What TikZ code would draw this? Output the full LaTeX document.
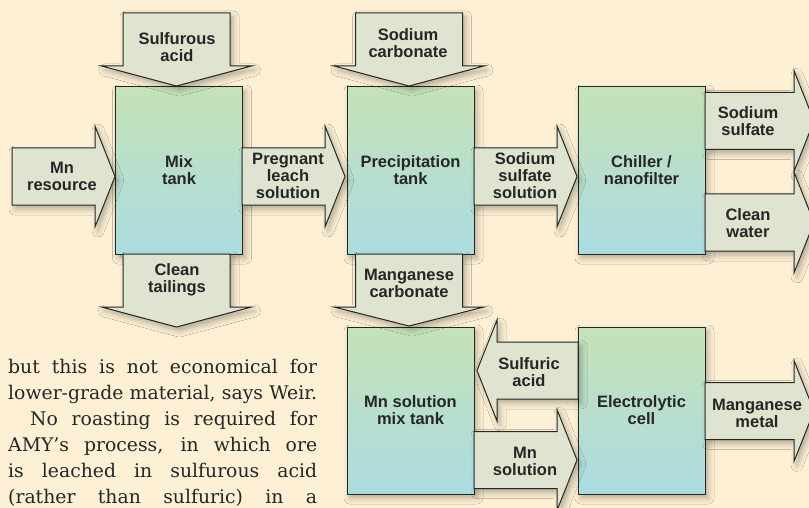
\documentclass[tikz,border=0pt]{standalone}
\usepackage{fontspec}
\newfontfamily\flowfont{Liberation Sans}
\newfontfamily\storyfont{DejaVu Serif}
\usetikzlibrary{shadows.blur}

\definecolor{paper}{RGB}{253,240,212}
\definecolor{tanktop}{RGB}{197,226,183}
\definecolor{tankbot}{RGB}{172,220,225}
\definecolor{flowfill}{RGB}{222,228,208}
\definecolor{ink}{RGB}{38,38,38}

\tikzset{
    softshadow/.style={blur shadow={shadow xshift=3pt, shadow yshift=-4pt, shadow blur radius=6pt, shadow opacity=30}},
    tank/.style={draw=ink, line width=1pt, top color=tanktop, bottom color=tankbot, minimum width=127pt, minimum height=167pt, inner sep=0pt, align=center, text=ink, font=\flowfont\bfseries\fontsize{16.5}{17}\selectfont, softshadow},
    flow/.style={draw=ink, line width=1pt, fill=flowfill, line join=miter, softshadow},
    flowtext/.style={align=center, inner sep=0pt, text=ink, font=\flowfont\bfseries\fontsize{16.5}{17}\selectfont}
}

% block arrows: start, head base, tip, centre line
\newcommand{\hflow}[4]{\draw[flow] (#1,#4-28.5) -- (#2,#4-28.5) -- (#2,#4-50.5) -- (#3,#4) -- (#2,#4+50.5) -- (#2,#4+28.5) -- (#1,#4+28.5) -- cycle;}
\newcommand{\vflow}[4]{\draw[flow] (#1-53.5,#2) -- (#1-53.5,#3) -- (#1-75,#3) -- (#1,#4) -- (#1+75,#3) -- (#1+53.5,#3) -- (#1+53.5,#2) -- cycle;}

\begin{document}
\begin{tikzpicture}[x=1pt,y=-1pt]
    \useasboundingbox (0,0) rectangle (809,508);
    \clip (0,0) rectangle (809,508);
    \fill[paper] (0,0) rectangle (809,508);

    % tanks
    \node[tank] (mix) at (179,170.5) {Mix\\tank};
    \node[tank] (precip) at (410.5,170.5) {Precipitation\\tank};
    \node[tank] (chiller) at (641.5,170.5) {Chiller /\\nanofilter};
    \node[tank] (mnmix) at (410.5,410.5) {Mn solution\\mix tank};
    \node[tank] (cell) at (641.5,410.5) {Electrolytic\\cell};

    % flows
    \hflow{12}{95}{115}{176.5}
    \hflow{242}{325}{345}{176.5}
    \hflow{474}{557}{577}{176.5}
    \hflow{705}{794}{814}{121}
    \hflow{705}{794}{814}{222.5}
    \hflow{578}{497}{477}{370.5}
    \hflow{474}{557}{577}{460}
    \hflow{705}{794}{814}{411}
    \vflow{176.5}{13}{66}{86}
    \vflow{176.5}{254}{307}{327}
    \vflow{409}{13}{66}{86}
    \vflow{409}{254}{307}{326}

    % flow labels
    \node[flowtext] (sulfurous) at (177,47) {Sulfurous\\acid};
    \node[flowtext] (resource) at (62,176) {Mn\\resource};
    \node[flowtext] (pregnant) at (288,176) {Pregnant\\leach\\solution};
    \node[flowtext] (tailings) at (177,280) {Clean\\tailings};
    \node[flowtext] (carbonate) at (408,43) {Sodium\\carbonate};
    \node[flowtext] (sulfsol) at (525,176) {Sodium\\sulfate\\solution};
    \node[flowtext] (sulfate) at (748,121) {Sodium\\sulfate};
    \node[flowtext] (water) at (748,223) {Clean\\water};
    \node[flowtext] (mncarb) at (409,283) {Manganese\\carbonate};
    \node[flowtext] (sulfuric) at (529,372) {Sulfuric\\acid};
    \node[flowtext] (mnsol) at (525,461) {Mn\\solution};
    \node[flowtext] (metal) at (757,413) {Manganese\\metal};

    % running text
    \node[anchor=base west, inner sep=0pt, text=ink] (story) at (8,373) {\parbox[t]{309pt}{\storyfont\fontsize{18.8}{26}\selectfont
        \makebox[\linewidth][s]{but this is not economical for}\\
        \makebox[\linewidth][s]{lower-grade material, says Weir.}\\
        \makebox[\linewidth][s]{\hspace{22pt}No roasting is required for}\\
        \makebox[\linewidth][s]{AMY’s process, in which ore}\\
        \makebox[\linewidth][s]{is leached in sulfurous acid}\\
        \makebox[\linewidth][s]{(rather than sulfuric) in a}}};
\end{tikzpicture}
\end{document}
